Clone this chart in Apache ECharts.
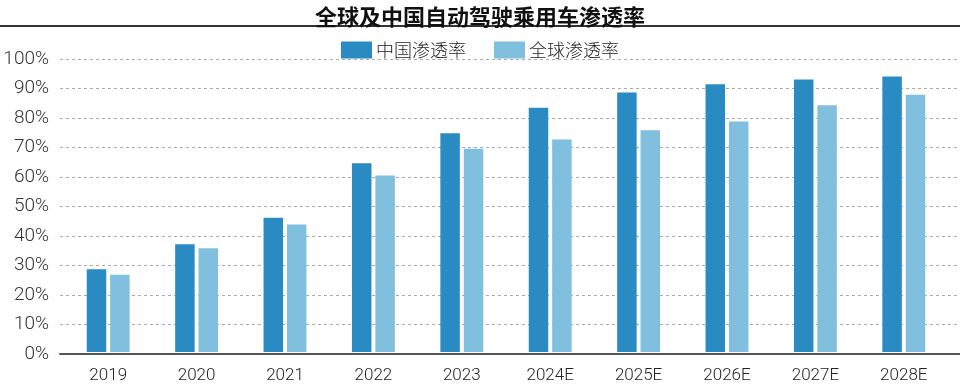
<!DOCTYPE html>
<html>
<head>
<meta charset="utf-8">
<script src="https://cdn.jsdelivr.net/npm/echarts@6/dist/echarts.min.js"></script>
<style>html,body{margin:0;padding:0;background:#fff;}#c{width:960px;height:384px;}</style>
</head>
<body>
<div id="c"></div>
<script>
const titleText = '全球及中国自动驾驶乘用车渗透率';
const categories = ['2019', '2020', '2021', '2022', '2023', '2024E', '2025E', '2026E', '2027E', '2028E'];
const seriesNames = ['中国渗透率', '全球渗透率'];
const chinaRate = [28.2, 36.8, 45.8, 64.4, 74.7, 83.4, 88.6, 91.4, 93.0, 94.0];
const globalRate = [26.4, 35.4, 43.5, 60.2, 69.4, 72.5, 75.7, 78.7, 84.2, 87.8];
const yTicks = [0, 100, 10];

const chart = echarts.init(document.getElementById('c'), null, {renderer: 'canvas'});
const numFont = 'Roboto';
const cjkFont = 'Noto Sans CJK SC';
chart.setOption({
  backgroundColor: '#fff',
  animation: false,
  title: {
    text: titleText, left: 'center', top: 1,
    textStyle: {fontFamily: cjkFont, fontSize: 22, fontWeight: 'bold', color: '#111'}
  },
  graphic: [{
    type: 'rect', left: 0, top: 25, shape: {width: 960, height: 2}, style: {fill: '#333'}
  }],
  legend: {
    top: 36, left: 'center', itemWidth: 31, itemHeight: 17, itemGap: 28,
    icon: 'rect',
    textStyle: {fontFamily: cjkFont, fontSize: 18, fontWeight: 300, color: '#222', padding: [0, 0, 0, -1]},
    data: seriesNames
  },
  grid: [
    {left: 64, right: 12, top: 59, bottom: 30},
    {left: 60, right: 0, top: 59, bottom: 30}
  ],
  xAxis: [
    {
      type: 'category', gridIndex: 0, data: categories,
      axisLine: {show: false}, axisTick: {show: false},
      axisLabel: {fontFamily: numFont, fontWeight: 300, fontSize: 17, color: '#222', margin: 15}
    },
    {
      type: 'value', gridIndex: 1, min: 0, max: 1,
      axisLine: {show: true, lineStyle: {color: '#555', width: 2}},
      axisTick: {show: false}, axisLabel: {show: false}, splitLine: {show: false}
    }
  ],
  yAxis: [
    {type: 'value', gridIndex: 0, min: yTicks[0], max: yTicks[1], show: false, splitLine: {show: false}},
    {
      type: 'value', gridIndex: 1, min: yTicks[0], max: yTicks[1], interval: yTicks[2],
      axisLine: {show: false}, axisTick: {show: false},
      axisLabel: {formatter: '{value}%', fontFamily: numFont, fontWeight: 300, fontSize: 19, color: '#333', margin: 11},
      splitLine: {show: true, lineStyle: {color: '#aaa', width: 1, type: [3, 3]}}
    }
  ],
  series: [
    {
      name: seriesNames[0], type: 'bar', xAxisIndex: 0, yAxisIndex: 0,
      data: chinaRate, barWidth: 19.5, barGap: '20%',
      itemStyle: {color: '#2a8bc3'}
    },
    {
      name: seriesNames[1], type: 'bar', xAxisIndex: 0, yAxisIndex: 0,
      data: globalRate, barWidth: 19.5, barGap: '20%',
      itemStyle: {color: '#80c0de'}
    }
  ]
});
</script>
</body>
</html>
